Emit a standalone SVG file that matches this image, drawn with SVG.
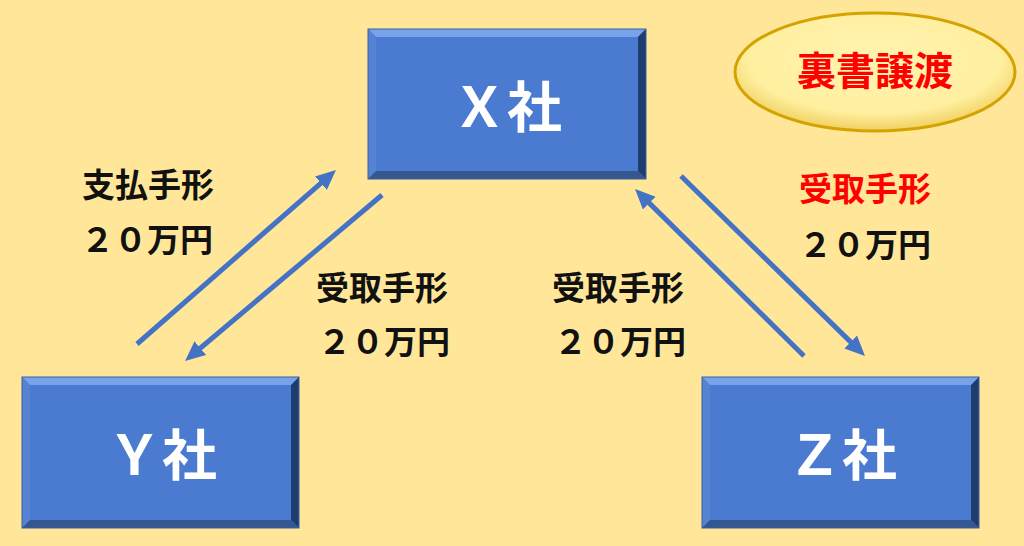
<svg xmlns="http://www.w3.org/2000/svg" width="1024" height="546" viewBox="0 0 1024 546">
<defs>
<style>
.lbl{font-family:"Noto Sans CJK JP","Noto Sans",sans-serif;font-weight:bold;font-size:33px;fill:#111;text-anchor:middle}
.red{fill:#FF0000}
.nt{font-family:"Noto Sans CJK JP","Noto Sans",sans-serif;font-weight:bold;font-size:55px;fill:#FFFFFF;text-anchor:middle}
.face{fill:#4A7BD1}
.bt{fill:#78A2EA}
.bl{fill:#5583D4}
.br{fill:#1E3C6E}
.bb{fill:#34578F}
.edge{fill:none;stroke:#3A5E9C;stroke-width:1}
.conn{stroke:#4472C4;stroke-width:5;fill:none}
</style>
<marker id="ah" markerUnits="userSpaceOnUse" markerWidth="22" markerHeight="18" viewBox="0 0 22 18" refX="13" refY="9" orient="auto">
<path d="M0,0 L20,9 L0,18 Z" fill="#4472C4"/>
</marker>
<radialGradient id="eg" cx="50%" cy="40%" r="60%">
<stop offset="0" stop-color="#FFF3B0"/>
<stop offset="0.75" stop-color="#FFEFA0"/>
<stop offset="1" stop-color="#F0CF5E"/>
</radialGradient>
</defs>
<rect x="0" y="0" width="1024" height="546" fill="#FFE699"/>

<g id="badge">
<ellipse cx="875" cy="72" rx="140" ry="59" fill="url(#eg)" stroke="#D4A300" stroke-width="3"/>
<text x="875" y="85" style="font-family:'Noto Sans CJK JP','Noto Sans',sans-serif;font-weight:bold;font-size:39px;fill:#FF0000;text-anchor:middle">裏書譲渡</text>
</g>

<g id="nodeX">
<rect class="face" x="368" y="29" width="278" height="150"/>
<polygon class="bt" points="368,29 646,29 638,37 376,37"/>
<polygon class="bl" points="368,29 376,37 376,171 368,179"/>
<polygon class="br" points="646,29 646,179 638,171 638,37"/>
<polygon class="bb" points="368,179 646,179 638,171 376,171"/>
<rect class="edge" x="368" y="29" width="278" height="150"/>
<text class="nt" x="507" y="127">Ｘ社</text>
</g>

<g id="nodeY">
<rect class="face" x="22" y="377" width="277" height="151"/>
<polygon class="bt" points="22,377 299,377 291,385 30,385"/>
<polygon class="bl" points="22,377 30,385 30,520 22,528"/>
<polygon class="br" points="299,377 299,528 291,520 291,385"/>
<polygon class="bb" points="22,528 299,528 291,520 30,520"/>
<rect class="edge" x="22" y="377" width="277" height="151"/>
<text class="nt" x="162" y="475">Ｙ社</text>
</g>

<g id="nodeZ">
<rect class="face" x="702" y="377" width="277" height="151"/>
<polygon class="bt" points="702,377 979,377 971,385 710,385"/>
<polygon class="bl" points="702,377 710,385 710,520 702,528"/>
<polygon class="br" points="979,377 979,528 971,520 971,385"/>
<polygon class="bb" points="702,528 979,528 971,520 710,520"/>
<rect class="edge" x="702" y="377" width="277" height="151"/>
<text class="nt" x="842" y="475">Ｚ社</text>
</g>

<g id="connectors">
<line class="conn" x1="137" y1="344" x2="330.7" y2="174.6" marker-end="url(#ah)"/>
<line class="conn" x1="382" y1="195" x2="190.4" y2="356.5" marker-end="url(#ah)"/>
<line class="conn" x1="804" y1="356" x2="640" y2="193.9" marker-end="url(#ah)"/>
<line class="conn" x1="681" y1="176" x2="860" y2="351.1" marker-end="url(#ah)"/>
</g>

<g id="labels">
<text class="lbl" x="148" y="197">支払手形</text>
<text class="lbl" x="147" y="252">２０万円</text>
<text class="lbl" x="382" y="300">受取手形</text>
<text class="lbl" x="384" y="354">２０万円</text>
<text class="lbl" x="618" y="300">受取手形</text>
<text class="lbl" x="620" y="354">２０万円</text>
<text class="lbl red" x="865" y="201">受取手形</text>
<text class="lbl" x="865" y="257">２０万円</text>
</g>
</svg>
